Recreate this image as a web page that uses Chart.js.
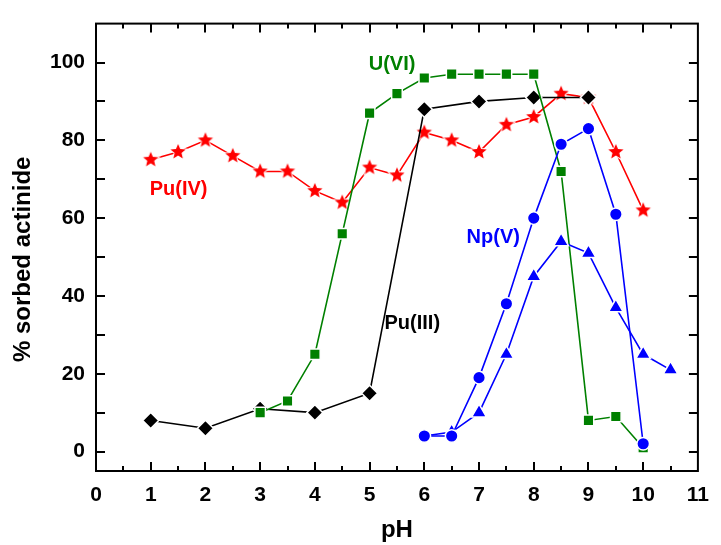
<!DOCTYPE html>
<html>
<head>
<meta charset="utf-8">
<title>Actinide sorption vs pH</title>
<script src="https://cdn.jsdelivr.net/npm/chart.js@4.4.1/dist/chart.umd.min.js"></script>
<style>
  html, body { margin: 0; padding: 0; background: #fff; }
  #wrap { width: 721px; height: 545px; }
</style>
</head>
<body>
<div id="wrap"><canvas id="sorption"></canvas></div>
<script>
// % sorbed actinide against pH, one pair of arrays per curve
var puIIIpH = [1, 2, 3, 4, 5, 6, 7, 8, 9];
var puIIISorbed = [8, 6, 11, 10, 15, 88, 90, 91, 91];

var uVIpH = [3, 3.5, 4, 4.5, 5, 5.5, 6, 6.5, 7, 7.5, 8, 8.5, 9, 9.5, 10];
var uVISorbed = [10, 13, 25, 56, 87, 92, 96, 97, 97, 97, 97, 72, 8, 9, 1];

var puIVpH = [1, 1.5, 2, 2.5, 3, 3.5, 4, 4.5, 5, 5.5, 6, 6.5, 7, 7.5, 8, 8.5, 9, 9.5, 10];
var puIVSorbed = [75, 77, 80, 76, 72, 72, 67, 64, 73, 71, 82, 80, 77, 84, 86, 92, 91, 77, 62];

var npVCirclepH = [6, 6.5, 7, 7.5, 8, 8.5, 9, 9.5, 10];
var npVCircleSorbed = [4, 4, 19, 38, 60, 79, 83, 61, 2];

var npVTrianglepH = [6, 6.5, 7, 7.5, 8, 8.5, 9, 9.5, 10, 10.5];
var npVTriangleSorbed = [4, 5, 10, 25, 45, 54, 51, 37, 25, 21];

var yTickValues = [0, 10, 20, 30, 40, 50, 60, 70, 80, 90, 100];
var yTickLabels = [0, 20, 40, 60, 80, 100];

// curve names written next to the curves (data units)
var curveNames = ['U(VI)', 'Pu(IV)', 'Pu(III)', 'Np(V)'];
var curveNameColors = ['#008000', '#ff0000', '#000000', '#0000ff'];
var curveNameX = [5.41, 1.51, 5.78, 7.26];
var curveNameY = [99.6, 67.4, 32.9, 55.1];

var FONT = '"Liberation Sans", Arial, Helvetica, sans-serif';

function toPoints(xs, ys) {
  return xs.map(function (x, i) { return { x: x, y: ys[i] }; });
}

// filled five point star used as marker for Pu(IV)
function makeStar(color, r) {
  var s = Math.ceil(r * 2 + 4);
  var c = document.createElement('canvas');
  c.width = s;
  c.height = s;
  var g = c.getContext('2d');
  g.beginPath();
  for (var i = 0; i < 10; i++) {
    var rad = i % 2 ? r * 0.45 : r;
    var a = -Math.PI / 2 + i * Math.PI / 5;
    g.lineTo(s / 2 + rad * Math.cos(a), s / 2 + rad * Math.sin(a));
  }
  g.closePath();
  g.strokeStyle = '#fff';
  g.lineWidth = 2;
  g.stroke();
  g.fillStyle = color;
  g.fill();
  return c;
}

function series(label, xs, ys, color, style, radius) {
  return {
    label: label,
    data: toPoints(xs, ys),
    borderColor: color,
    backgroundColor: color,
    borderWidth: 1.6,
    pointStyle: style,
    pointRadius: radius,
    pointBackgroundColor: color,
    pointBorderColor: '#fff',
    pointBorderWidth: 1.5,
    tension: 0
  };
}

// box frame, inward ticks, curve names and the y title
var framePlugin = {
  id: 'frame',
  afterDatasetsDraw: function (chart) {
    var ctx = chart.ctx;
    var xs = chart.scales.x, ys = chart.scales.y;
    ctx.save();
    ctx.font = 'bold 20px ' + FONT;
    ctx.textAlign = 'center';
    ctx.textBaseline = 'middle';
    curveNames.forEach(function (t, i) {
      ctx.fillStyle = curveNameColors[i];
      ctx.fillText(t, xs.getPixelForValue(curveNameX[i]), ys.getPixelForValue(curveNameY[i]));
    });
    ctx.restore();
  },
  afterDraw: function (chart) {
    var ctx = chart.ctx, a = chart.chartArea;
    var xs = chart.scales.x, ys = chart.scales.y;
    ctx.save();
    ctx.strokeStyle = '#000';
    ctx.lineWidth = 2;
    ctx.strokeRect(a.left, a.top, a.right - a.left, a.bottom - a.top);
    ctx.beginPath();
    xs.ticks.forEach(function (t) {
      if (t.value <= xs.min || t.value >= xs.max) return;
      var px = Math.round(xs.getPixelForValue(t.value));
      var len = t.value % 1 === 0 ? 9 : 5;
      ctx.moveTo(px, a.bottom);
      ctx.lineTo(px, a.bottom - len);
      ctx.moveTo(px, a.top);
      ctx.lineTo(px, a.top + len);
    });
    ys.ticks.forEach(function (t) {
      var py = Math.round(ys.getPixelForValue(t.value));
      ctx.moveTo(a.left, py);
      ctx.lineTo(a.left + 9, py);
      ctx.moveTo(a.right, py);
      ctx.lineTo(a.right - 9, py);
    });
    ctx.stroke();

    ctx.translate(23, (a.top + a.bottom) / 2 + 12);
    ctx.rotate(-Math.PI / 2);
    ctx.font = 'bold 24px ' + FONT;
    ctx.fillStyle = '#000';
    ctx.textAlign = 'center';
    ctx.textBaseline = 'middle';
    ctx.fillText('% sorbed actinide', 0, 0);
    ctx.restore();
  }
};

// first dataset ends up on top
var ctx = document.getElementById('sorption').getContext('2d');
var chart = new Chart(ctx, {
  type: 'line',
  data: {
    datasets: [
      series('Np(V) circles', npVCirclepH, npVCircleSorbed, '#0000ff', 'circle', 6.3),
      series('Np(V) triangles', npVTrianglepH, npVTriangleSorbed, '#0000ff', 'triangle', 8.5),
      series('U(VI)', uVIpH, uVISorbed, '#008000', 'rect', 7.5),
      series('Pu(III)', puIIIpH, puIIISorbed, '#000000', 'rectRot', 8),
      series('Pu(IV)', puIVpH, puIVSorbed, '#ff0000', makeStar('#ff0000', 8), 8)
    ]
  },
  options: {
    responsive: true,
    maintainAspectRatio: false,
    animation: false,
    layout: { padding: { top: 15, right: 13, left: 0, bottom: 0 } },
    plugins: {
      legend: { display: false },
      tooltip: { enabled: false }
    },
    scales: {
      x: {
        type: 'linear',
        min: 0,
        max: 11,
        grid: { display: false, drawTicks: false },
        border: { display: false },
        ticks: {
          stepSize: 0.5,
          autoSkip: false,
          maxRotation: 0,
          padding: 12,
          color: '#000',
          font: { family: FONT, size: 21, weight: 'bold' },
          callback: function (v) { return v % 1 === 0 ? String(v) : ''; }
        },
        title: {
          display: true,
          text: 'pH',
          color: '#000',
          font: { family: FONT, size: 24, weight: 'bold' },
          padding: { top: 0, bottom: 0 }
        },
        afterFit: function (scale) { scale.height = 74; }
      },
      y: {
        min: -5,
        max: 110,
        grid: { display: false, drawTicks: false },
        border: { display: false },
        afterBuildTicks: function (scale) {
          scale.ticks = yTickValues.map(function (v) { return { value: v }; });
        },
        ticks: {
          autoSkip: false,
          padding: 11,
          color: '#000',
          font: { family: FONT, size: 21, weight: 'bold' },
          callback: function (v) { return yTickLabels.indexOf(v) >= 0 ? String(v) : ''; }
        },
        afterFit: function (scale) { scale.width = 96; }
      }
    }
  },
  plugins: [framePlugin]
});
</script>
</body>
</html>
